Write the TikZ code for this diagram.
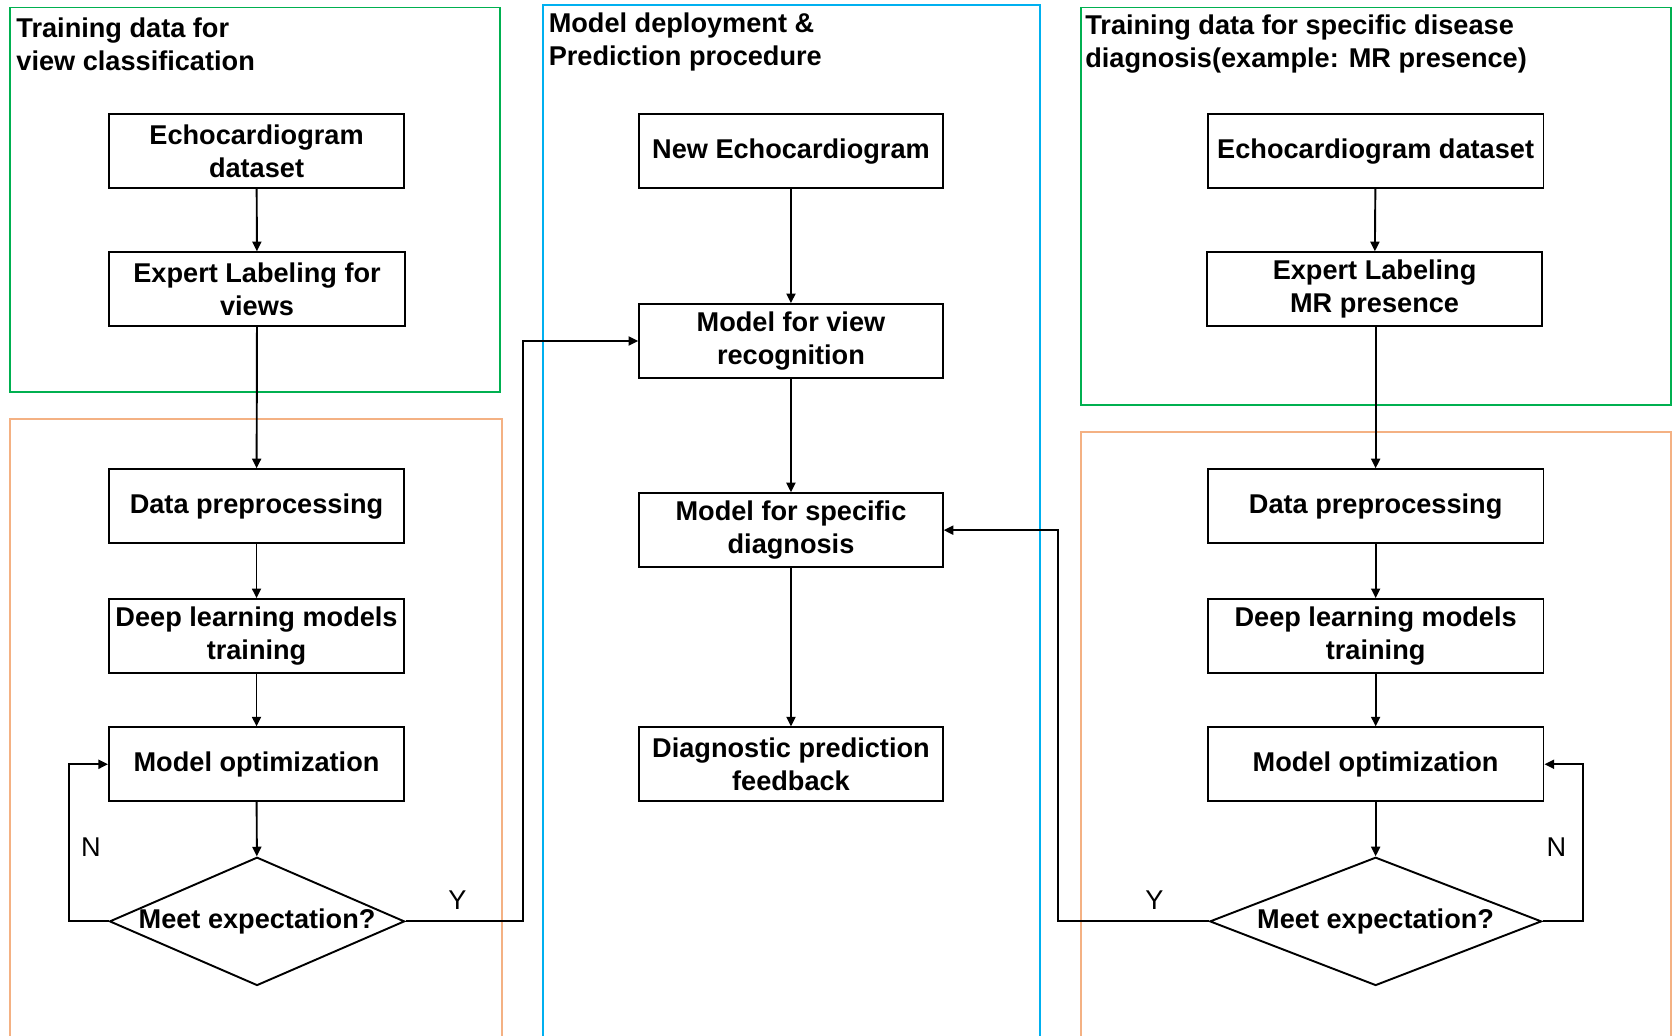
\documentclass[tikz,border=0pt]{standalone}
\usepackage{fontspec}
\setmainfont{Liberation Sans}
\usetikzlibrary{shapes.geometric,arrows.meta}
\definecolor{frgreen}{RGB}{0,176,80}
\definecolor{frorange}{RGB}{244,177,131}
\definecolor{frblue}{RGB}{0,176,240}
\tikzset{
  stepbox/.style={draw=black,line width=0.9pt,fill=white,align=center,inner sep=0pt,
    font=\fontsize{12.7}{15.5}\selectfont\bfseries,minimum height=34.5pt},
  decide/.style={diamond,draw=black,line width=0.9pt,fill=white,inner sep=0pt,aspect=2.3,
    font=\fontsize{12.7}{15.5}\selectfont\bfseries,minimum height=60pt},
  frame/.style={line width=0.9pt},
  title/.style={anchor=west,align=left,inner sep=0pt,font=\fontsize{12.7}{15.5}\selectfont\bfseries},
  lab/.style={inner sep=0pt,font=\fontsize{12.7}{15.5}\selectfont},
  conn/.style={line width=0.9pt,-{Triangle[length=4.5pt,width=4.2pt]}},
}
\begin{document}
\begin{tikzpicture}[x=0.5pt,y=-0.5pt]
\clip (0,0) rectangle (1568,969);
\fill[white] (0,0) rectangle (1568,969);
% frames
\draw[frame,frgreen] (9,7) rectangle (468,367);
\draw[frame,frorange] (9,392) rectangle (470,990);
\draw[frame,frblue] (508,5) rectangle (973,990);
\draw[frame,frgreen] (1011,7) rectangle (1563,379);
\draw[frame,frorange] (1011,404) rectangle (1563,990);
% titles
\node[title] (t1) at (15,41.5) {Training data for\\view classification};
\node[title] (t2) at (513,39) {Model deployment \&\\Prediction procedure};
\node[title] (t3) at (1015,41.5) {Training data for specific disease\\diagnosis(example: MR presence)};
% left column
\node[stepbox,minimum width=138pt] (l1) at (240,141.5) {Echocardiogram\\dataset};
\node[stepbox,minimum width=138.5pt] (l2) at (240.5,270.5) {Expert Labeling for\\views};
\node[stepbox,minimum width=138pt] (l3) at (240,473.5) {Data preprocessing};
\node[stepbox,minimum width=138pt] (l4) at (240,595) {Deep learning models\\training};
\node[stepbox,minimum width=138pt] (l5) at (240,715) {Model optimization};
\node[decide,minimum width=137.5pt] (ld) at (240.5,862) {Meet expectation?};
% middle column
\node[stepbox,minimum width=142pt] (m1) at (740,141.5) {New Echocardiogram};
\node[stepbox,minimum width=142pt] (m2) at (740,319) {Model for view\\recognition};
\node[stepbox,minimum width=142pt] (m3) at (740,496) {Model for specific\\diagnosis};
\node[stepbox,minimum width=142pt] (m4) at (740,715) {Diagnostic prediction\\feedback};
% right column
\node[stepbox,minimum width=157pt] (r1) at (1287,141.5) {Echocardiogram dataset};
\node[stepbox,minimum width=157pt] (r2) at (1286,270.5) {Expert Labeling\\MR presence};
\node[stepbox,minimum width=157pt] (r3) at (1287,473.5) {Data preprocessing};
\node[stepbox,minimum width=157pt] (r4) at (1287,595) {Deep learning models\\training};
\node[stepbox,minimum width=157pt] (r5) at (1287,715) {Model optimization};
\node[decide,minimum width=155pt,aspect=3.75] (rd) at (1287,862) {Meet expectation?};
% helper coordinates
\coordinate (ly) at (489,0);
\coordinate (ry) at (990,0);
% left connectors
\draw[conn] (l1) -- (l2);
\draw[conn] (l2) -- (l3);
\draw[conn] (l3) -- (l4);
\draw[conn] (l4) -- (l5);
\draw[conn] (l5) -- (ld);
\draw[conn] (ld.west) -- ++(-37,0) |- (l5.west);
\draw[conn] (ld.east) -- (ld.east -| ly) |- (m2.west);
% middle connectors
\draw[conn] (m1) -- (m2);
\draw[conn] (m2) -- (m3);
\draw[conn] (m3) -- (m4);
% right connectors
\draw[conn] (r1) -- (r2);
\draw[conn] (r2.south -| r1) -- (r3);
\draw[conn] (r3) -- (r4);
\draw[conn] (r4) -- (r5);
\draw[conn] (r5) -- (rd);
\draw[conn] (rd.east) -- ++(38,0) |- (r5.east);
\draw[conn] (rd.west) -- (rd.west -| ry) |- (m3.east);
% labels
\node[lab] (nl) at (85,793) {N};
\node[lab] (yl) at (428,842) {Y};
\node[lab] (yr) at (1080,842) {Y};
\node[lab] (nr) at (1456,793) {N};
\end{tikzpicture}
\end{document}
